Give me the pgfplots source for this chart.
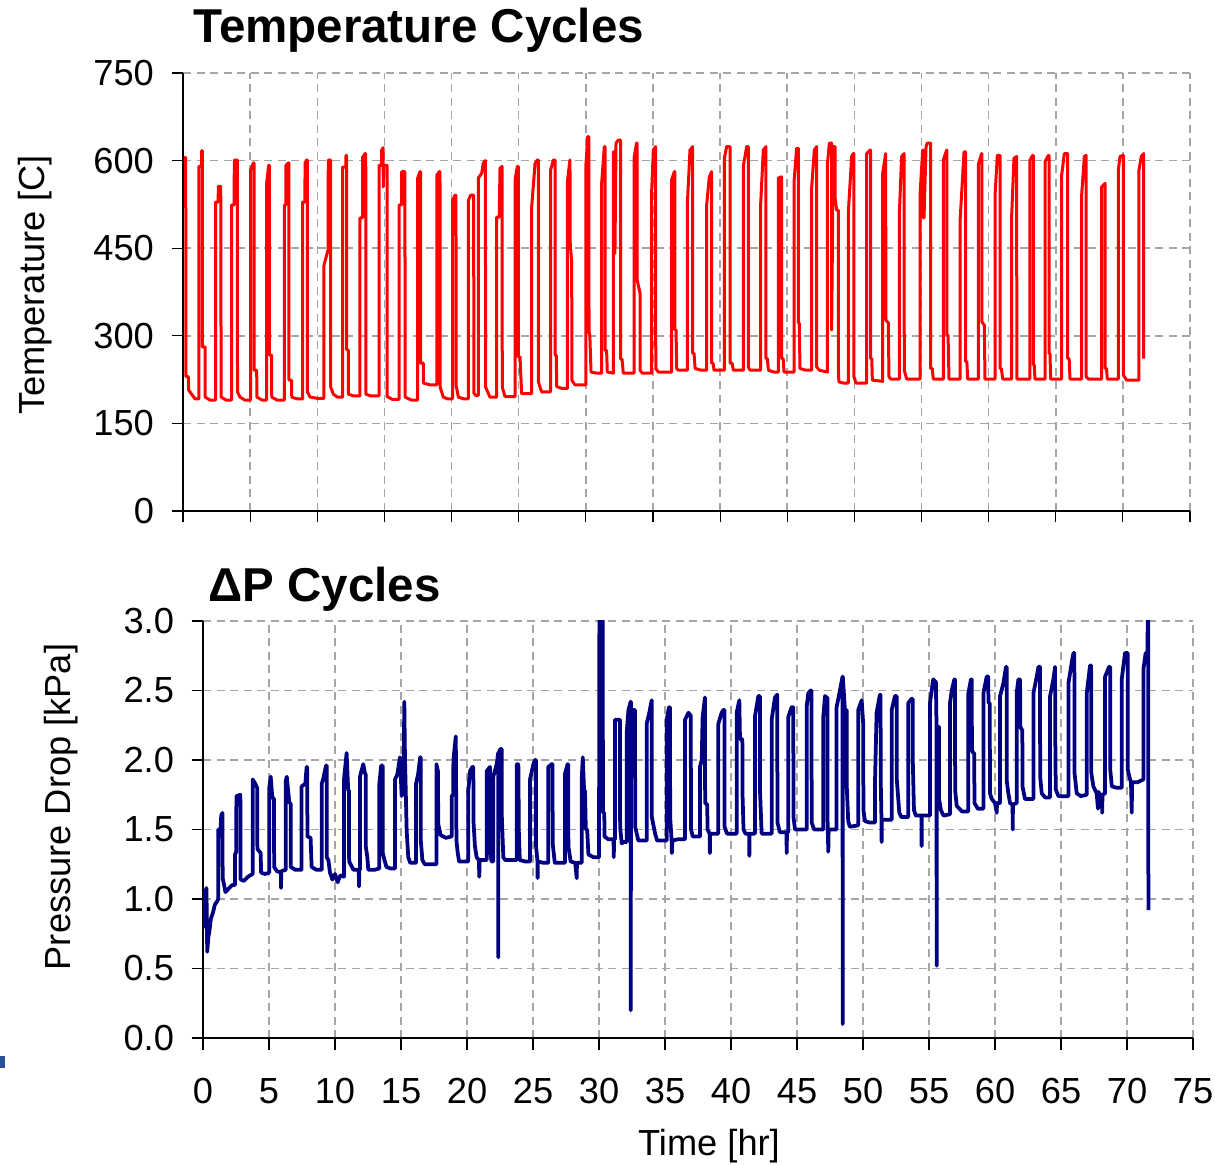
\documentclass[border=0pt]{standalone}
\usepackage{fontspec}
\setmainfont{Liberation Sans}
\usepackage{pgfplots}
\pgfplotsset{compat=1.18}
\definecolor{tred}{RGB}{255,0,0}
\definecolor{pnavy}{RGB}{0,0,128}
\definecolor{gridgray}{RGB}{165,165,165}
\definecolor{markblue}{RGB}{40,80,150}
\pgfplotsset{
 mystyle/.style={
  scale only axis,
  axis lines*=left,
  axis line style={-, black, line width=0.55pt},
  tick align=outside,
  major tick length=4.6pt,
  tick style={black, line width=0.45pt},
  grid=major,
  major grid style={dash pattern=on 3.2pt off 2.2pt, gridgray, line width=0.6pt},
  xmin=0, xmax=75, xtick={0,5,...,75},
  tick label style={font=\fontsize{14.5}{17}\selectfont},
  yticklabel style={xshift=-3.5pt},
  xticklabel style={yshift=-8pt},
  /pgf/number format/assume math mode=true,
 }
}
\begin{document}
\begin{tikzpicture}
\path[use as bounding box] (0,0) rectangle (486pt,465.6pt);
\fill[markblue] (0pt,38.4pt) rectangle (2pt,43.2pt);
\begin{axis}[mystyle, at={(73.2pt,261.2pt)}, anchor=south west,
  width=402.8pt, height=175.2pt, ymin=0, ymax=750, ytick={0,150,300,450,600,750},
  xticklabel=\empty]
\addplot[tred, line width=1.2pt, line join=round] coordinates {
(0.05,605) (0.2,605) (0.22,230) (0.4,230) (0.42,207) (0.64,200) (0.9,192) (1.19,192)
(1.19,590) (1.38,590) (1.39,617) (1.44,617) (1.44,281) (1.64,281) (1.65,195) (2.0,190) (2.43,190)
(2.43,529) (2.62,529) (2.63,556) (2.81,556) (2.84,195) (3.2,190) (3.62,190)
(3.62,524) (3.81,524) (3.82,601) (4.05,601) (4.06,204) (4.25,195) (4.6,190) (5.04,190)
(5.04,584) (5.24,596) (5.29,596) (5.29,241) (5.49,241) (5.5,195) (5.9,190) (6.23,190)
(6.23,561) (6.38,592) (6.43,592) (6.43,267) (6.6,267) (6.61,195) (7.0,190) (7.55,190)
(7.55,524) (7.66,524) (7.67,592) (7.84,596) (7.89,596) (7.89,224) (8.09,224) (8.1,195) (8.5,192) (8.91,192)
(8.91,529) (9.08,529) (9.09,596) (9.21,601) (9.26,601) (9.27,204) (9.46,195) (10.0,193) (10.5,193)
(10.5,421) (10.8,447) (10.82,601) (10.99,601) (11.0,212) (11.2,200) (11.5,195) (11.89,195)
(11.89,589) (12.13,589) (12.14,609) (12.19,609) (12.19,276) (12.31,276) (12.32,200) (12.7,197) (13.18,197)
(13.18,502) (13.37,502) (13.38,606) (13.56,612) (13.61,612) (13.62,200) (14.0,197) (14.6,197)
(14.6,592) (14.79,592) (14.8,618) (14.9,622) (14.92,555) (14.95,592) (15.2,592) (15.21,196) (15.6,191) (16.09,191)
(16.09,524) (16.28,524) (16.29,581) (16.53,581) (16.54,195) (17.0,190) (17.48,190)
(17.48,570) (17.65,581) (17.7,581) (17.7,253) (17.9,253) (17.91,219) (18.4,216) (18.9,216)
(18.9,575) (19.09,581) (19.14,581) (19.15,212) (19.39,195) (19.7,192) (20.08,192)
(20.08,532) (20.26,541) (20.33,541) (20.34,215) (20.51,195) (20.9,192) (21.25,192)
(21.25,532) (21.43,541) (21.65,541) (21.66,202) (21.8,198) (21.99,198)
(21.99,570) (22.24,578) (22.37,596) (22.52,600) (22.54,212) (22.86,195) (23.1,195) (23.36,195)
(23.36,503) (23.55,503) (23.61,587) (23.76,590) (23.78,212) (23.98,196) (24.3,196) (24.73,196)
(24.73,567) (24.9,590) (24.97,590) (24.97,264) (25.1,264) (25.22,201) (25.6,201) (25.97,201)
(25.97,521) (26.22,595) (26.39,601) (26.46,601) (26.47,221) (26.71,204) (27.0,204) (27.38,204)
(27.38,584) (27.58,601) (27.71,601) (27.71,267) (27.8,267) (27.83,213) (28.2,210) (28.63,210)
(28.63,564) (28.82,601) (28.84,459) (28.95,424) (28.96,224) (29.19,216) (29.6,216) (30.01,216)
(30.01,593) (30.14,641) (30.22,641) (30.24,307) (30.3,300) (30.39,238) (30.8,236) (31.18,236)
(31.18,561) (31.38,624) (31.43,624) (31.43,275) (31.55,275) (31.6,238) (32.05,236)
(32.05,615) (32.15,615) (32.17,441) (32.25,630) (32.42,635) (32.59,635) (32.59,260) (32.7,260) (32.79,236) (33.2,236) (33.59,236)
(33.59,604) (33.78,630) (33.83,630) (33.83,395) (34.04,373) (34.04,241) (34.21,236) (34.6,236) (34.91,236)
(34.91,550) (35.03,618) (35.2,624) (35.21,244) (35.4,238) (35.9,238) (36.39,238)
(36.39,567) (36.59,581) (36.64,581) (36.64,310) (36.72,310) (36.77,244) (36.89,241) (37.56,241)
(37.56,524) (37.76,618) (37.96,624) (37.96,270) (38.06,270) (38.14,244) (38.6,241) (39.0,241)
(39.0,524) (39.2,572) (39.37,581) (39.37,253) (39.48,253) (39.55,241) (40.32,241)
(40.32,604) (40.49,624) (40.74,624) (40.74,253) (40.9,253) (40.99,241) (41.73,241)
(41.73,590) (41.98,624) (42.1,624) (42.1,247) (42.23,241) (43.02,241)
(43.02,524) (43.22,618) (43.42,624) (43.42,261) (43.52,261) (43.6,241) (44.0,238) (44.34,238)
(44.34,570) (44.52,572) (44.59,572) (44.59,261) (44.7,261) (44.76,238) (45.51,238)
(45.51,564) (45.7,621) (45.83,621) (45.83,322) (45.9,322) (45.95,244) (46.4,241) (46.82,241)
(46.82,553) (47.02,618) (47.19,624) (47.19,247) (47.39,241) (47.99,238)
(47.99,593) (48.14,630) (48.31,630) (48.31,310) (48.43,624) (48.56,624) (48.56,538) (48.68,515) (48.81,515) (48.81,241) (48.85,221) (49.2,219) (49.55,219)
(49.55,510) (49.8,607) (49.92,612) (49.97,612) (49.97,230) (50.12,219) (50.92,219)
(50.92,612) (51.17,618) (51.22,618) (51.22,261) (51.3,261) (51.34,224) (52.11,222)
(52.11,578) (52.33,612) (52.35,327) (52.53,322) (52.58,230) (52.7,226) (53.35,226)
(53.35,507) (53.52,607) (53.7,612) (53.72,241) (53.9,226) (54.89,226)
(54.89,541) (55.09,618) (55.12,618) (55.13,502) (55.19,502) (55.34,624) (55.43,630) (55.68,630) (55.68,244) (55.8,244) (55.88,226) (56.63,226)
(56.63,601) (56.88,618) (56.9,618) (56.9,301) (56.98,301) (57.05,226) (57.87,226)
(57.87,495) (58.17,615) (58.29,615) (58.29,256) (58.38,256) (58.44,226) (59.23,226)
(59.23,593) (59.48,612) (59.5,612) (59.5,324) (59.68,318) (59.73,226) (60.48,226)
(60.48,541) (60.65,609) (60.85,609) (60.85,244) (60.95,244) (61.05,226) (61.72,226)
(61.72,507) (61.89,604) (62.09,607) (62.1,226) (63.08,226)
(63.08,601) (63.28,609) (63.33,609) (63.33,250) (63.4,250) (63.45,226) (64.2,226)
(64.2,598) (64.45,609) (64.5,609) (64.5,270) (64.57,270) (64.62,226) (65.44,226)
(65.44,575) (65.64,612) (65.89,612) (65.89,261) (66.0,261) (66.06,226) (66.93,226)
(66.93,541) (67.13,607) (67.26,609) (67.26,230) (67.43,226) (68.42,226)
(68.42,555) (68.67,561) (68.67,244) (68.78,244) (68.84,226) (69.66,226)
(69.66,584) (69.79,607) (70.03,609) (70.03,233) (70.28,224) (71.2,224)
(71.2,584) (71.37,607) (71.55,612) (71.55,261)
};
\end{axis}
\begin{axis}[mystyle, at={(81.2pt,50.4pt)}, anchor=south west,
  width=396pt, height=166.8pt, ymin=0, ymax=3, ytick={0,0.5,1,1.5,2,2.5,3},
  yticklabel style={/pgf/number format/.cd, fixed, fixed zerofill, precision=1}]
\addplot[pnavy, line width=1.5pt, line join=round] coordinates {
(0.02,0.9) (0.08,1.06) (0.13,0.8) (0.2,1.0) (0.26,1.08) (0.32,0.62) (0.4,0.72) (0.5,0.78) (0.6,0.86) (0.75,0.9) (0.9,0.96) (1.05,0.98) (1.16,1.0)
(1.16,1.5) (1.3,1.45) (1.38,1.6) (1.47,1.62) (1.49,1.15) (1.6,1.1) (1.7,1.05) (2.0,1.08) (2.2,1.1) (2.42,1.1)
(2.42,1.32) (2.52,1.34) (2.53,1.74) (2.83,1.75) (2.85,1.14) (3.1,1.13) (3.4,1.16) (3.76,1.18)
(3.76,1.86) (3.9,1.84) (4.1,1.8) (4.12,1.36) (4.37,1.33) (4.4,1.19) (4.7,1.18) (5.02,1.19)
(5.02,1.8) (5.13,1.88) (5.25,1.73) (5.38,1.72) (5.39,1.23) (5.6,1.2) (5.9,1.19) (5.91,1.08) (5.93,1.2) (6.27,1.21)
(6.27,1.85) (6.35,1.88) (6.54,1.69) (6.64,1.69) (6.65,1.23) (7.0,1.21) (7.47,1.21)
(7.47,1.81) (7.75,1.83) (7.85,1.95) (7.9,1.95) (7.91,1.45) (8.15,1.44) (8.23,1.23) (8.6,1.21) (8.99,1.21)
(8.99,1.83) (9.1,1.86) (9.32,1.96) (9.37,1.96) (9.38,1.3) (9.5,1.28) (9.62,1.19) (9.8,1.14) (10.0,1.18) (10.2,1.12) (10.4,1.17) (10.68,1.16)
(10.68,1.86) (10.88,2.05) (11.0,1.78) (11.06,1.78) (11.07,1.27) (11.4,1.21) (11.8,1.21) (11.82,1.09) (11.84,1.21) (11.89,1.21)
(11.89,1.88) (12.14,1.97) (12.28,1.9) (12.32,1.9) (12.33,1.38) (12.45,1.3) (12.52,1.21) (13.0,1.21) (13.36,1.22)
(13.36,1.83) (13.5,1.96) (13.61,1.96) (13.62,1.33) (13.75,1.28) (13.9,1.23) (14.2,1.22) (14.55,1.22)
(14.55,1.86) (14.73,1.9) (14.92,2.02) (15.05,1.74) (15.2,1.9) (15.25,2.42) (15.3,2.02) (15.43,1.49) (15.55,1.3) (15.7,1.26) (16.14,1.26)
(16.14,1.83) (16.3,1.9) (16.45,2.02) (16.49,2.02) (16.5,1.42) (16.62,1.28) (16.8,1.25) (17.3,1.25) (17.68,1.25)
(17.68,1.97) (17.8,1.92) (17.82,1.54) (18.0,1.46) (18.4,1.44) (18.84,1.45)
(18.84,1.74) (18.95,1.75) (18.97,2.0) (19.15,2.17) (19.2,1.42) (19.3,1.33) (19.4,1.27) (19.8,1.27) (20.1,1.27)
(20.1,1.78) (20.23,1.92) (20.4,1.95) (20.48,1.95) (20.49,1.56) (20.6,1.38) (20.73,1.3) (20.9,1.28) (20.93,1.16) (20.96,1.28) (21.49,1.28)
(21.49,1.92) (21.74,1.95) (21.75,1.38) (21.85,1.27) (21.99,1.27)
(21.99,1.88) (22.25,1.97) (22.36,2.05) (22.37,0.58) (22.38,2.05) (22.55,2.08) (22.63,2.08) (22.64,1.59) (22.75,1.3) (22.9,1.28) (23.4,1.28) (23.76,1.28)
(23.76,1.97) (23.89,1.97) (23.93,1.47) (24.0,1.28) (24.4,1.27) (24.77,1.27)
(24.77,1.86) (25.03,1.97) (25.15,2.0) (25.22,2.0) (25.23,1.38) (25.33,1.28) (25.35,1.15) (25.37,1.27) (25.8,1.26) (26.16,1.26)
(26.16,1.95) (26.41,1.97) (26.48,1.97) (26.49,1.4) (26.65,1.26) (27.0,1.26) (27.42,1.26)
(27.42,1.9) (27.62,1.97) (27.67,1.97) (27.68,1.38) (27.85,1.27) (28.2,1.26) (28.31,1.15) (28.33,1.26) (28.69,1.26)
(28.69,1.86) (28.77,2.02) (28.87,1.78) (28.94,1.78) (29.0,1.5) (29.1,1.5) (29.2,1.32) (29.6,1.3) (30.0,1.3)
(30.03,3.05) (30.1,3.05) (30.12,1.9) (30.2,2.3) (30.26,3.05) (30.28,3.05) (30.3,1.62) (30.4,1.62) (30.42,1.45) (30.7,1.43) (31.1,1.43) (31.12,1.3) (31.14,1.43) (31.21,1.43)
(31.21,2.29) (31.46,2.29) (31.59,2.29) (31.6,1.52) (31.72,1.4) (31.85,1.41) (32.1,1.41)
(32.1,2.2) (32.23,2.36) (32.4,2.42) (32.41,0.2) (32.42,2.42) (32.48,2.1) (32.55,2.36) (32.73,2.36) (32.74,1.52) (32.98,1.42) (33.3,1.42) (33.61,1.42)
(33.61,2.26) (33.81,2.34) (33.99,2.43) (34.0,1.59) (34.25,1.47) (34.4,1.42) (34.8,1.42) (35.13,1.42)
(35.13,2.29) (35.3,2.38) (35.38,2.38) (35.39,1.59) (35.5,1.42) (35.52,1.33) (35.55,1.42) (36.0,1.43) (36.52,1.43)
(36.52,2.29) (36.77,2.34) (36.95,2.32) (36.97,1.5) (37.1,1.45) (37.65,1.45)
(37.65,1.95) (37.78,2.0) (37.85,2.31) (38.03,2.45) (38.04,1.69) (38.2,1.68) (38.22,1.5) (38.38,1.47) (38.4,1.33) (38.42,1.47) (39.04,1.47)
(39.04,2.26) (39.29,2.34) (39.42,2.36) (39.5,2.36) (39.51,1.52) (39.7,1.47) (40.43,1.47)
(40.43,2.34) (40.63,2.43) (40.68,2.15) (40.86,2.15) (40.87,1.76) (40.95,1.5) (41.1,1.47) (41.37,1.47) (41.39,1.31) (41.41,1.47) (41.81,1.47)
(41.81,2.31) (42.07,2.46) (42.19,2.46) (42.2,1.77) (42.32,1.47) (42.7,1.47) (43.08,1.47)
(43.08,2.29) (43.33,2.45) (43.5,2.47) (43.52,1.55) (43.7,1.48) (44.2,1.48) (44.22,1.33) (44.24,1.48) (44.34,1.48)
(44.34,2.31) (44.59,2.38) (44.72,2.38) (44.73,1.59) (44.85,1.5) (45.3,1.5) (45.73,1.5)
(45.73,2.38) (45.85,2.48) (46.03,2.5) (46.1,2.5) (46.11,1.55) (46.3,1.5) (46.99,1.5)
(46.99,2.31) (47.12,2.46) (47.24,2.45) (47.3,2.45) (47.31,1.59) (47.37,1.34) (47.4,1.5) (48.0,1.5)
(48.0,2.38) (48.25,2.5) (48.45,2.6) (48.46,0.1) (48.47,2.6) (48.63,2.36) (48.76,2.36) (48.77,1.81) (48.88,1.56) (49.0,1.52) (49.64,1.53)
(49.64,2.36) (49.9,2.43) (50.02,2.25) (50.03,1.64) (50.15,1.56) (50.5,1.55) (50.9,1.55)
(50.9,1.81) (51.03,2.34) (51.28,2.47) (51.33,2.47) (51.34,1.86) (51.4,1.57) (51.41,1.41) (51.43,1.57) (52.17,1.57)
(52.17,2.36) (52.42,2.46) (52.55,2.46) (52.56,1.86) (52.75,1.62) (52.9,1.59) (53.43,1.59)
(53.43,2.41) (53.68,2.44) (53.76,2.44) (53.77,2.0) (53.86,1.64) (54.0,1.6) (54.42,1.6) (54.44,1.38) (54.46,1.6) (55.07,1.6)
(55.07,2.41) (55.32,2.58) (55.52,2.56) (55.57,2.24) (55.58,0.52) (55.59,2.24) (55.75,2.24) (55.76,1.72) (55.9,1.64) (56.1,1.6) (56.59,1.61)
(56.59,2.41) (56.72,2.5) (56.92,2.58) (56.97,2.58) (56.98,1.78) (57.1,1.67) (57.5,1.63) (57.98,1.63)
(57.98,2.48) (58.18,2.58) (58.24,2.58) (58.25,2.07) (58.36,2.05) (58.43,2.05) (58.44,1.69) (58.7,1.65) (59.12,1.65)
(59.12,2.48) (59.37,2.6) (59.49,2.6) (59.5,2.41) (59.6,2.41) (59.62,1.76) (59.75,1.72) (60.0,1.69) (60.13,1.62) (60.15,1.69) (60.38,1.69)
(60.38,2.46) (60.63,2.55) (60.83,2.67) (60.88,2.67) (60.89,1.85) (61.01,1.76) (61.14,1.69) (61.33,1.68) (61.34,1.5) (61.36,1.68) (61.64,1.69)
(61.64,2.48) (61.77,2.58) (61.9,2.58) (61.91,2.24) (62.02,2.22) (62.07,2.22) (62.08,1.81) (62.27,1.72) (62.6,1.72) (62.91,1.72)
(62.91,2.48) (63.16,2.6) (63.29,2.67) (63.41,2.67) (63.42,1.88) (63.54,1.76) (63.8,1.73) (64.17,1.73)
(64.17,2.46) (64.42,2.58) (64.55,2.67) (64.56,2.24) (64.6,1.79) (64.8,1.74) (65.2,1.74) (65.56,1.74)
(65.56,2.55) (65.81,2.7) (65.94,2.77) (66.01,2.77) (66.02,1.91) (66.19,1.76) (66.5,1.74) (66.95,1.75)
(66.95,2.48) (67.2,2.68) (67.28,2.68) (67.29,1.91) (67.45,1.81) (67.7,1.76) (67.8,1.65) (67.85,1.77) (68.1,1.72) (68.12,1.62) (68.14,1.75) (68.34,1.76)
(68.34,2.6) (68.64,2.67) (68.72,2.67) (68.73,1.93) (68.85,1.81) (69.2,1.8) (69.6,1.8)
(69.6,2.58) (69.85,2.77) (69.98,2.77) (70.05,2.77) (70.06,1.93) (70.23,1.86) (70.3,1.84) (70.36,1.62) (70.38,1.84) (70.8,1.84) (71.24,1.86)
(71.24,2.65) (71.41,2.77) (71.55,2.77) (71.57,3.05) (71.6,3.05) (71.62,0.92)
};
\end{axis}
\node[font=\fontsize{19}{22}\selectfont\bfseries, anchor=base west, inner sep=0pt] at (77.2pt,448.4pt) {Temperature Cycles};
\node[font=\fontsize{19}{22}\selectfont\bfseries, anchor=base west, inner sep=0pt] at (83.2pt,224.8pt) {ΔP Cycles};
\node[font=\fontsize{14.5}{17}\selectfont, anchor=base, inner sep=0pt] at (283.6pt,3.6pt) {Time [hr]};
\node[font=\fontsize{14.5}{17}\selectfont, rotate=90, anchor=base, inner sep=0pt] at (17.8pt,351.6pt) {Temperature [C]};
\node[font=\fontsize{14.5}{17}\selectfont, rotate=90, anchor=base, inner sep=0pt] at (28.2pt,142.8pt) {Pressure Drop [kPa]};
\end{tikzpicture}
\end{document}
